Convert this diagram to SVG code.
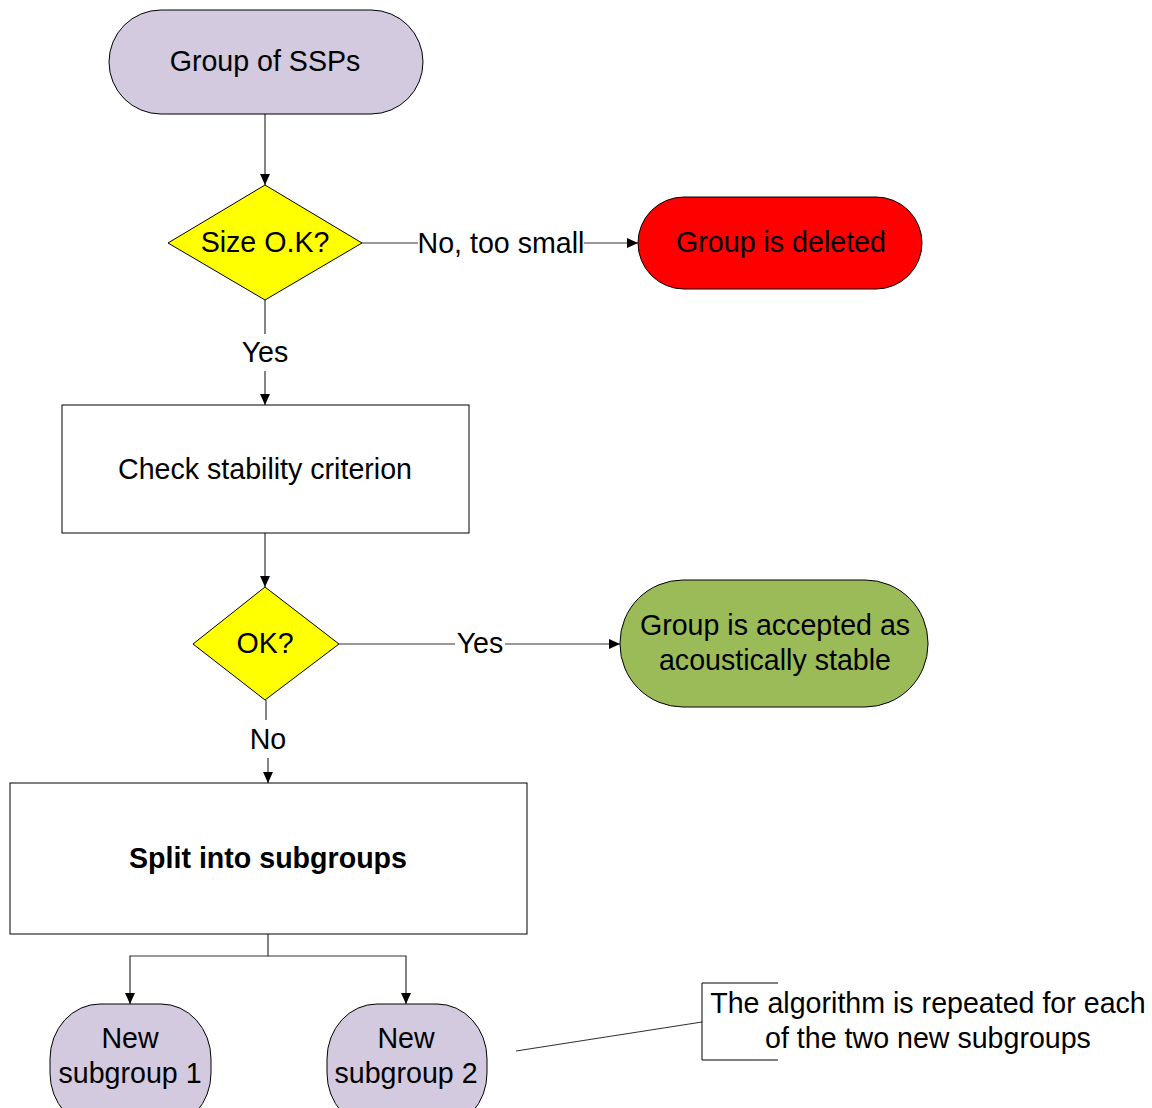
<svg xmlns="http://www.w3.org/2000/svg" width="1152" height="1108" viewBox="0 0 1152 1108">
<defs>
<style>
text{font-family:"Liberation Sans",Arial,sans-serif;font-size:28.6px;fill:#000;text-anchor:middle;dominant-baseline:central}
.shape{stroke:#000;stroke-width:1}
.conn{fill:none;stroke:#333;stroke-width:1.2}
.lav{fill:#d3cae0}
</style>
<marker id="ah" viewBox="0 0 10 10" refX="10" refY="5" markerWidth="11" markerHeight="11" markerUnits="userSpaceOnUse" orient="auto">
<path d="M0,0.5 L10,5 L0,9.5 Z" fill="#000"/>
</marker>
</defs>
<rect width="1152" height="1108" fill="#fff"/>
<g id="connectors">
<line class="conn" x1="265" y1="114" x2="265" y2="185" marker-end="url(#ah)"/>
<line class="conn" x1="362" y1="243" x2="418" y2="243"/>
<line class="conn" x1="584" y1="243" x2="638" y2="243" marker-end="url(#ah)"/>
<line class="conn" x1="265" y1="300" x2="265" y2="334"/>
<line class="conn" x1="265" y1="371" x2="265" y2="405" marker-end="url(#ah)"/>
<line class="conn" x1="265" y1="533" x2="265" y2="587" marker-end="url(#ah)"/>
<line class="conn" x1="339" y1="644" x2="455" y2="644"/>
<line class="conn" x1="505" y1="644" x2="620" y2="644" marker-end="url(#ah)"/>
<line class="conn" x1="266" y1="700" x2="266" y2="720"/>
<line class="conn" x1="268" y1="758" x2="268" y2="783" marker-end="url(#ah)"/>
<polyline class="conn" points="268,934 268,956 130,956 130,1004" marker-end="url(#ah)"/>
<polyline class="conn" points="268,956 406,956 406,1004" marker-end="url(#ah)"/>
<line class="conn" x1="516" y1="1051" x2="702" y2="1022" stroke="#000"/>
<text x="501" y="243">No, too small</text>
<text x="265" y="352">Yes</text>
<text x="480" y="643">Yes</text>
<text x="268" y="739">No</text>
</g>
<g id="n_group">
<rect class="shape lav" x="109" y="10" width="314" height="104" rx="52" ry="52"/>
<text x="265" y="61">Group of SSPs</text>
</g>
<g id="n_size">
<polygon class="shape" fill="#ffff00" points="265,185 362,243 265,300 168,243"/>
<text x="265" y="242">Size O.K?</text>
</g>
<g id="n_deleted">
<rect class="shape" fill="#ff0000" x="638" y="197" width="284" height="92" rx="46" ry="46"/>
<text x="781" y="242">Group is deleted</text>
</g>
<g id="n_check">
<rect class="shape" fill="#fff" x="62" y="405" width="407" height="128"/>
<text x="265" y="469">Check stability criterion</text>
</g>
<g id="n_ok">
<polygon class="shape" fill="#ffff00" points="265,587 339,644 265,700 193,644"/>
<text x="265" y="643">OK?</text>
</g>
<g id="n_accepted">
<rect class="shape" fill="#9bbb59" x="620" y="580" width="308" height="127" rx="63" ry="63"/>
<text x="775" y="625">Group is accepted as</text>
<text x="775" y="660">acoustically stable</text>
</g>
<g id="n_split">
<rect class="shape" fill="#fff" x="10" y="783" width="517" height="151"/>
<text x="268" y="858" font-weight="bold">Split into subgroups</text>
</g>
<g id="n_sub1">
<rect class="shape lav" x="50" y="1004" width="161" height="124" rx="50" ry="55"/>
<text x="130" y="1038">New</text>
<text x="130" y="1073">subgroup 1</text>
</g>
<g id="n_sub2">
<rect class="shape lav" x="327" y="1004" width="160" height="124" rx="50" ry="55"/>
<text x="406" y="1038">New</text>
<text x="406" y="1073">subgroup 2</text>
</g>
<g id="n_note">
<polyline fill="none" stroke="#000" stroke-width="1" points="778,983 702,983 702,1060 778,1060"/>
<text x="928" y="1003">The algorithm is repeated for each</text>
<text x="928" y="1038">of the two new subgroups</text>
</g>
</svg>
